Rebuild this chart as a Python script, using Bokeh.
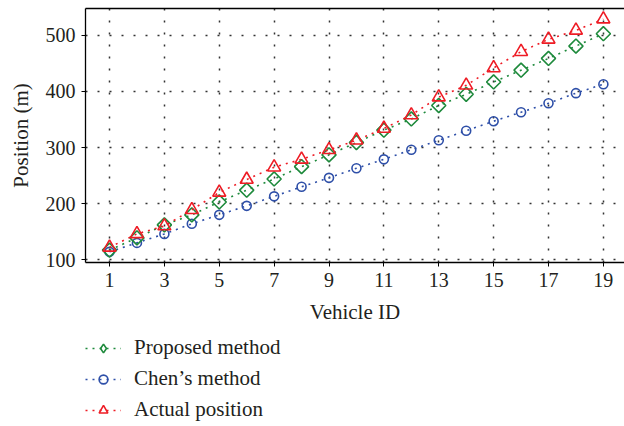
import math
from bokeh.plotting import figure
from bokeh.layouts import column
from bokeh.models import (Range1d, FixedTicker, LinearAxis, Legend, LegendItem,
                          ColumnDataSource)
from bokeh.embed import file_html
from bokeh.resources import INLINE

# Vehicle positions along the road (m)
vehicle_id = list(range(1, 20))
proposed = [117, 139, 162, 180, 203, 224, 244, 266, 287, 309, 331, 351, 375, 395, 417, 438, 459, 481, 503]
chen = [114, 130, 146, 164, 180, 196, 213, 230, 246, 263, 279, 296, 313, 330, 347, 363, 379, 397, 413]
actual = [122, 146, 160, 189, 220, 243, 265, 279, 296, 313, 334, 358, 390, 411, 442, 471, 493, 509, 529]

x_ticks = [1, 3, 5, 7, 9, 11, 13, 15, 17, 19]
y_ticks = [100, 200, 300, 400, 500]

labels = ["Proposed method", "Chen’s method", "Actual position"]

FONT = "Liberation Serif"
TEXT = "#231f20"
RED = "#ee1c25"
GREEN = "#1e8a3c"
BLUE = "#2e4fa8"

# marker styles in the chart: (colour, marker, size, angle)
STYLE = {
    "proposed": (GREEN, "square", 10, math.pi / 4),
    "chen": (BLUE, "circle", 9, 0),
    "actual": (RED, "triangle", 13, 0),
}
# smaller markers for the legend swatches
LEGEND_STYLE = {
    "proposed": (GREEN, "diamond", 11, 0),
    "chen": (BLUE, "circle", 7, 0),
    "actual": (RED, "triangle", 9, 0),
}

src = ColumnDataSource(dict(x=vehicle_id, proposed=proposed, chen=chen, actual=actual))

p = figure(width=624, height=330, output_backend="svg", toolbar_location=None,
           x_range=Range1d(0.125, 19.77), y_range=Range1d(95, 548),
           min_border_left=85, min_border_top=8, min_border_right=0,
           min_border_bottom=68,
           x_axis_location=None, y_axis_location=None)
p.outline_line_color = None
p.background_fill_color = "white"
p.border_fill_color = "white"

def style_axis(ax, ticks):
    ax.ticker = FixedTicker(ticks=ticks)
    ax.axis_line_color = "black"
    ax.axis_line_width = 1.3
    ax.major_tick_line_color = "black"
    ax.major_tick_out = 4
    ax.major_tick_in = 0
    ax.minor_tick_line_color = None
    ax.major_label_text_font = FONT
    ax.major_label_text_font_size = "20px"
    ax.major_label_text_color = TEXT
    ax.axis_label_text_font = FONT
    ax.axis_label_text_font_size = "21px"
    ax.axis_label_text_font_style = "normal"
    ax.axis_label_text_color = TEXT

xaxis = LinearAxis(axis_label="Vehicle ID")
style_axis(xaxis, x_ticks)
xaxis.major_label_standoff = 6
xaxis.axis_label_standoff = 10
p.add_layout(xaxis, "below")

yaxis = LinearAxis(axis_label="Position (m)")
style_axis(yaxis, y_ticks)
yaxis.major_label_standoff = 6
yaxis.axis_label_standoff = 10
p.add_layout(yaxis, "left")

# plain top border
top = LinearAxis(ticker=FixedTicker(ticks=[]), axis_line_color="black", axis_line_width=1.3,
                 major_tick_line_color=None, minor_tick_line_color=None,
                 major_label_text_font_size="0px", major_label_standoff=0)
p.add_layout(top, "above")

p.xgrid.ticker = FixedTicker(ticks=x_ticks)
p.ygrid.ticker = FixedTicker(ticks=y_ticks)
for g in (p.xgrid, p.ygrid):
    g.grid_line_color = "#333333"
    g.grid_line_width = 1.5
    g.grid_line_dash = "2 10"

def series(fig, source, col, styles):
    color, marker, size, angle = styles[col]
    ln = fig.line("x", col, source=source, line_color=color, line_width=1.6, line_dash="2 5")
    sc = fig.scatter("x", col, source=source, marker=marker, size=size, angle=angle,
                     line_color=color, line_width=1.6, fill_color=None)
    return [ln, sc]

for col in ("chen", "proposed", "actual"):
    series(p, src, col, STYLE)

# legend strip under the chart; its ranges keep the series themselves out of view
lg = figure(width=624, height=96, output_backend="svg", toolbar_location=None,
            x_range=Range1d(-2, -1), y_range=Range1d(0, 1),
            min_border_left=85, min_border_right=0, min_border_top=0, min_border_bottom=0,
            x_axis_location=None, y_axis_location=None)
lg.outline_line_color = None
lg.xgrid.visible = False
lg.ygrid.visible = False
items = [LegendItem(label=lab, renderers=series(lg, src, col, LEGEND_STYLE))
         for lab, col in zip(labels, ("proposed", "chen", "actual"))]
legend = Legend(items=items, location=(0, 4), orientation="vertical",
                margin=0, padding=0, spacing=6,
                glyph_width=36, glyph_height=22, label_height=22,
                label_standoff=13, label_text_font=FONT, label_text_font_size="21px",
                label_text_color=TEXT, border_line_color=None,
                background_fill_alpha=0)
lg.add_layout(legend)

open("out.html", "w").write(file_html(column(p, lg, spacing=0), INLINE))
